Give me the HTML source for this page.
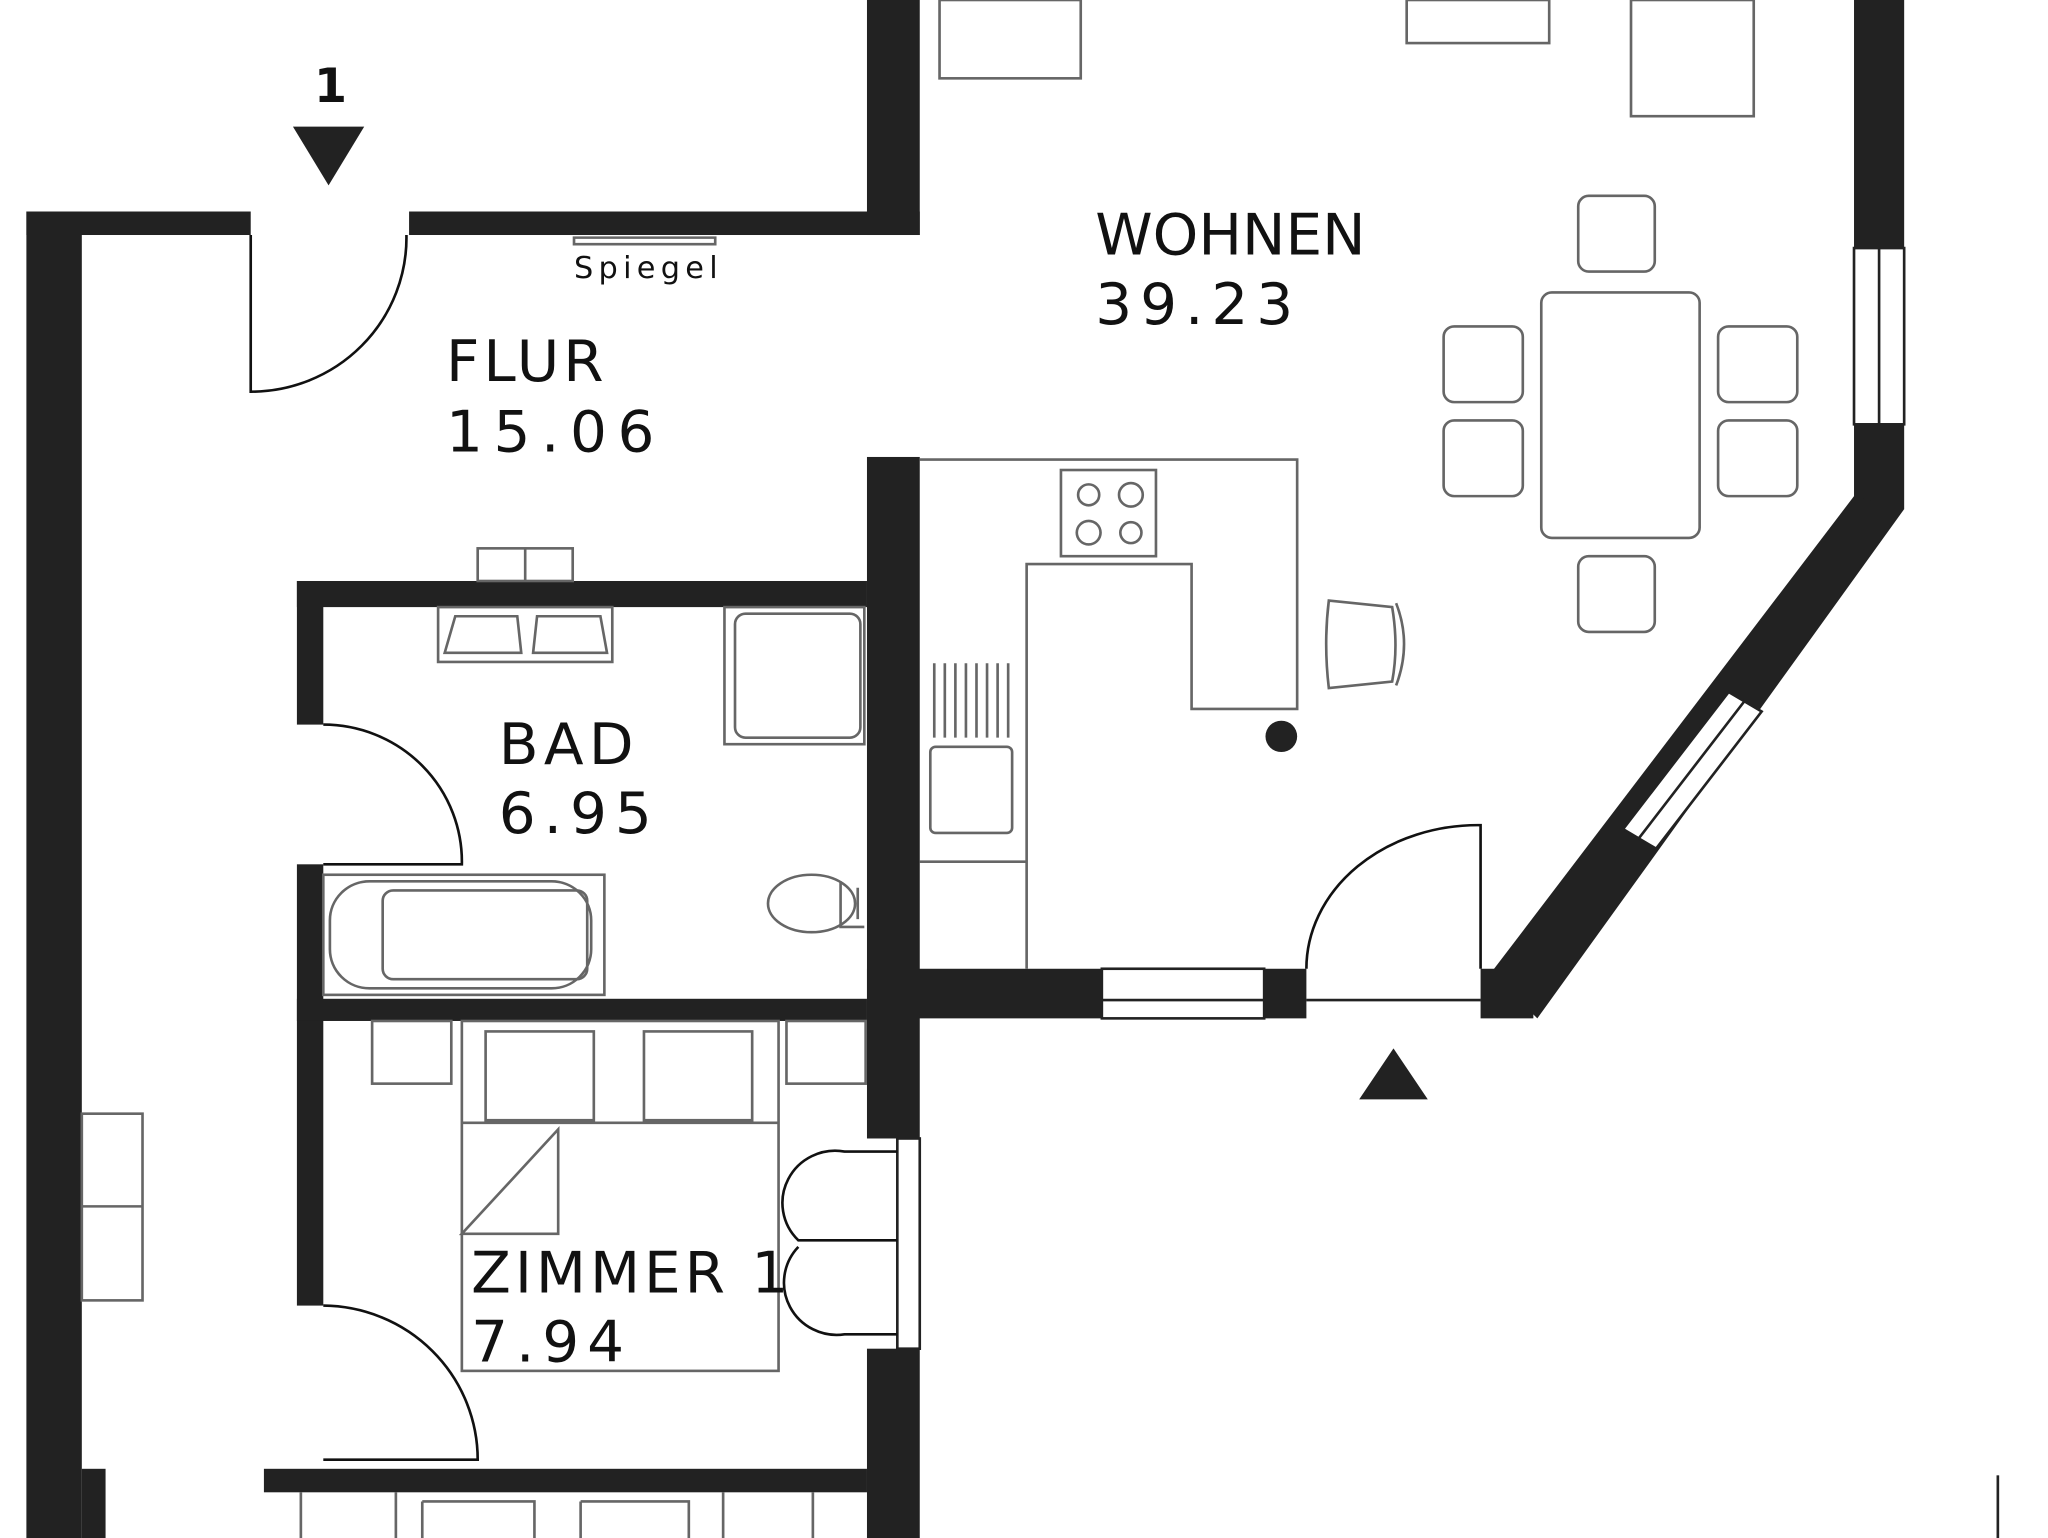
<!DOCTYPE html>
<html><head><meta charset="utf-8"><style>
html,body{margin:0;padding:0;background:#fff;}
svg{display:block;}
text{font-family:"DejaVu Sans","Liberation Sans",sans-serif;fill:#111;}
</style></head><body>
<svg width="2048" height="1538" viewBox="0 0 1552 1178" preserveAspectRatio="none" xmlns="http://www.w3.org/2000/svg">
<g fill="#222">
<rect x="20" y="162" width="170" height="18"/>
<rect x="310" y="162" width="387" height="18"/>
<rect x="657" y="0" width="40" height="180"/>
<rect x="20" y="162" width="42" height="1016"/>
<rect x="1405" y="0" width="38" height="190"/>
<rect x="1405" y="325" width="38" height="65"/>
<polygon points="1405,380 1443,390 1165,780 1130,745"/>
<rect x="657" y="742" width="178" height="38"/>
<rect x="958" y="742" width="32" height="38"/>
<rect x="1122" y="742" width="40" height="38"/>
<rect x="657" y="350" width="40" height="522"/>
<rect x="657" y="1033" width="40" height="145"/>
<rect x="225" y="445" width="432" height="20"/>
<rect x="225" y="445" width="20" height="110"/>
<rect x="225" y="662" width="20" height="120"/>
<rect x="225" y="765" width="432" height="17"/>
<rect x="225" y="782" width="20" height="218"/>
<rect x="200" y="1125" width="457" height="18"/>
<rect x="62" y="1125" width="18" height="53"/>
</g>
<g fill="#fff" stroke="#222" stroke-width="2">
<rect x="1405" y="190" width="38" height="135"/>
<line x1="1424" y1="190" x2="1424" y2="325"/>
<rect x="835" y="742" width="123" height="38"/>
<line x1="835" y1="766" x2="958" y2="766"/>
<line x1="990" y1="766" x2="1122" y2="766"/>
<rect x="680" y="872" width="17" height="161"/>
</g>
<polygon points="1310,530 1335,545 1255,650 1230,635" fill="#fff" stroke="#222" stroke-width="2"/>
<line x1="1322" y1="537" x2="1242" y2="642" stroke="#222" stroke-width="2"/>
<g fill="none" stroke="#111" stroke-width="2">
<path d="M190 180 V300 A118 118 0 0 0 308 180"/>
<path d="M245 555 A105 105 0 0 1 350 662 H245"/>
<path d="M245 1000 A118 118 0 0 1 362 1118 H245"/>
<path d="M990 742 A130 110 0 0 1 1122 632 V742"/>
<path d="M680 882 H640 A40 40 0 0 0 605 950 H680"/>
<path d="M680 1022 H640 A40 40 0 0 1 605 955"/>
</g>
<polygon points="222,97 276,97 249,142" fill="#222"/>
<polygon points="1030,842 1082,842 1056,803" fill="#222"/>
<circle cx="971" cy="564" r="12" fill="#222"/>
<g fill="none" stroke="#666" stroke-width="2">
<rect x="712" y="0" width="107" height="60"/>
<rect x="1066" y="0" width="108" height="33"/>
<rect x="1236" y="0" width="93" height="89"/>
<rect x="1168" y="224" width="120" height="188" rx="8"/>
<rect x="1196" y="150" width="58" height="58" rx="8"/>
<rect x="1196" y="426" width="58" height="58" rx="8"/>
<rect x="1094" y="250" width="60" height="58" rx="8"/>
<rect x="1094" y="322" width="60" height="58" rx="8"/>
<rect x="1302" y="250" width="60" height="58" rx="8"/>
<rect x="1302" y="322" width="60" height="58" rx="8"/>
<path d="M697 352 H983 V543 H903 V432 H778 V742"/>
<path d="M697 660 H778"/>
<rect x="804" y="360" width="72" height="66"/>
<circle cx="825" cy="379" r="8"/><circle cx="857" cy="379" r="9"/>
<circle cx="825" cy="408" r="9"/><circle cx="857" cy="408" r="8"/>
<path d="M1007 460 L1055 465 Q1060 495 1055 522 L1007 527 Q1003 493 1007 460Z"/>
<path d="M1058 462 Q1070 493 1058 525"/>
<rect x="705" y="572" width="62" height="66" rx="4"/>
<path d="M708 508 V565 M716 508 V565 M724 508 V565 M732 508 V565 M740 508 V565 M748 508 V565 M756 508 V565 M764 508 V565"/>
<rect x="362" y="420" width="72" height="25"/><line x1="398" y1="420" x2="398" y2="445"/>
<rect x="332" y="465" width="132" height="42"/>
<path d="M337 500 L345 472 H392 L395 500Z M404 500 L407 472 H455 L460 500Z"/>
<rect x="549" y="465" width="106" height="105"/>
<rect x="557" y="470" width="95" height="95" rx="8"/>
<rect x="245" y="670" width="213" height="92"/>
<rect x="250" y="675" width="198" height="82" rx="30"/>
<rect x="290" y="682" width="155" height="68" rx="8"/>
<ellipse cx="615" cy="692" rx="33" ry="22"/>
<path d="M637 675 V710 H655 M650 680 V704"/>
<rect x="282" y="782" width="60" height="48"/>
<rect x="596" y="782" width="60" height="48"/>
<rect x="350" y="782" width="240" height="268"/>
<rect x="368" y="790" width="82" height="68"/>
<rect x="488" y="790" width="82" height="68"/>
<path d="M350 860 H590 M350 945 L423 865 V945 Z"/>
<rect x="62" y="853" width="46" height="143"/><line x1="62" y1="924" x2="108" y2="924"/>
<path d="M228 1143 V1178 M300 1143 V1178 M320 1150 H405 V1178 M320 1150 V1178 M440 1150 H522 V1178 M440 1150 V1178 M548 1143 V1178 M616 1143 V1178"/>
<path d="M435 182 H542 V187 H435 Z"/>
<line x1="1514" y1="1130" x2="1514" y2="1178" stroke="#222"/>
</g>
<text x="238" y="78" font-size="36" font-weight="bold" font-family="Liberation Sans">1</text>
<text x="435" y="213" font-size="23" letter-spacing="4">Spiegel</text>
<text x="338" y="292" font-size="44" letter-spacing="3">FLUR</text>
<text x="338" y="346" font-size="44" letter-spacing="8">15.06</text>
<text x="830" y="195" font-size="44" letter-spacing="0">WOHNEN</text>
<text x="830" y="248" font-size="44" letter-spacing="6">39.23</text>
<text x="378" y="585" font-size="44" letter-spacing="4">BAD</text>
<text x="378" y="638" font-size="44" letter-spacing="6">6.95</text>
<text x="357" y="990" font-size="44" letter-spacing="3">ZIMMER 1</text>
<text x="357" y="1043" font-size="44" letter-spacing="6">7.94</text>
</svg>
</body></html>
